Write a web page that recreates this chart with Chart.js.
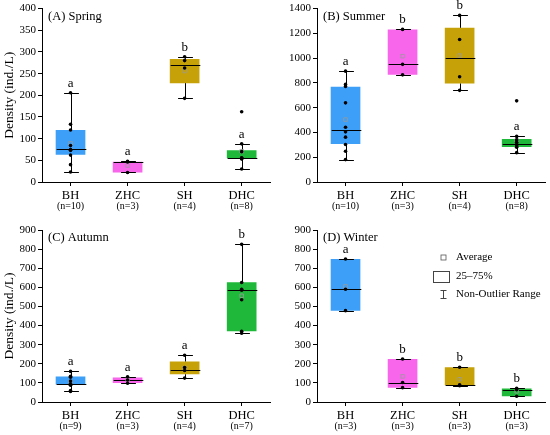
<!DOCTYPE html>
<html>
<head>
<meta charset="utf-8">
<script src="https://cdn.jsdelivr.net/npm/chart.js@4.4.1/dist/chart.umd.min.js"></script>
<style>
body{margin:0;background:#fff;}
.panel{position:absolute;width:275px;}
</style>
</head>
<body>
<div class="panel" style="left:0;top:0;height:215px"><canvas id="chartA"></canvas></div>
<div class="panel" style="left:275px;top:0;height:215px"><canvas id="chartB"></canvas></div>
<div class="panel" style="left:0;top:215px;height:220px"><canvas id="chartC"></canvas></div>
<div class="panel" style="left:275px;top:215px;height:220px"><canvas id="chartD"></canvas></div>
<script>
//////////////////////////////// DONNEES

const categories = ['BH', 'ZHC', 'SH', 'DHC'];

// (A) Spring
const springN = ['(n=10)', '(n=3)', '(n=4)', '(n=8)'];
const springQ1 = [63, 22, 228, 55];
const springQ3 = [120, 47, 284, 73];
const springMedian = [75, 46, 271, 56];
const springLow = [23, 22, 193, 30];
const springHigh = [206, 48, 289, 88];
const springMean = [89, 38, 256, 71];
const springPoints = [
    [206, 133, 120, 84, 75, 74, 73, 62, 40, 23],
    [48, 46, 22],
    [289, 280, 263, 193],
    [162, 88, 70, 56, 55, 54, 53, 30]
];
const springLetters = ['a', 'a', 'b', 'a'];
const springTicks = [0, 50, 100, 150, 200, 250, 300, 350, 400];

// (B) Summer
const summerN = ['(n=10)', '(n=3)', '(n=4)', '(n=8)'];
const summerQ1 = [306, 865, 795, 283];
const summerQ3 = [770, 1232, 1245, 348];
const summerMedian = [423, 950, 998, 310];
const summerLow = [181, 865, 740, 237];
const summerHigh = [895, 1232, 1345, 368];
const summerMean = [504, 1016, 1021, 335];
const summerPoints = [
    [895, 788, 772, 639, 442, 405, 362, 303, 248, 181],
    [1232, 950, 865],
    [1345, 1150, 850, 740],
    [655, 368, 340, 320, 305, 290, 280, 237]
];
const summerLetters = ['a', 'b', 'b', 'a'];
const summerTicks = [0, 200, 400, 600, 800, 1000, 1200, 1400];

// (C) Autumn
const autumnN = ['(n=9)', '(n=3)', '(n=4)', '(n=7)'];
const autumnQ1 = [91, 100, 145, 370];
const autumnQ3 = [134, 128, 212, 627];
const autumnMedian = [92, 115, 170, 585];
const autumnLow = [55, 98, 125, 360];
const autumnHigh = [160, 132, 245, 825];
const autumnMean = [105, 117, 178, 556];
const autumnPoints = [
    [160, 135, 130, 110, 95, 90, 88, 60, 55],
    [132, 115, 98],
    [245, 180, 165, 125],
    [825, 625, 590, 585, 535, 370, 360]
];
const autumnLetters = ['a', 'a', 'a', 'b'];
const autumnTicks = [0, 100, 200, 300, 400, 500, 600, 700, 800, 900];

// (D) Winter
const winterN = ['(n=3)', '(n=3)', '(n=3)', '(n=3)'];
const winterQ1 = [478, 75, 88, 30];
const winterQ3 = [748, 225, 182, 70];
const winterMedian = [590, 102, 90, 65];
const winterLow = [478, 75, 85, 30];
const winterHigh = [748, 225, 182, 72];
const winterMean = [605, 134, 119, 56];
const winterPoints = [
    [748, 590, 478],
    [225, 102, 75],
    [182, 90, 85],
    [72, 65, 30]
];
const winterLetters = ['a', 'b', 'b', 'b'];
const winterTicks = [0, 100, 200, 300, 400, 500, 600, 700, 800, 900];

const legendLabels = ['Average', '25\u201375%', 'Non-Outlier Range'];

//////////////////////////////// STYLE

const boxColors = ['#3d9ff7', '#f866ec', '#c6a108', '#1fb83b'];
const serif = "'Liberation Serif', 'Times New Roman', serif";

//////////////////////////////// PLUGIN MOUSTACHES / MEDIANE / LETTRES

const boxExtras = {
    id: 'boxExtras',
    afterDatasetDraw(chart, args, opts) {
        if (args.meta.type !== 'bar') return;
        const ctx = chart.ctx;
        const y = chart.scales.y;
        ctx.save();
        ctx.strokeStyle = '#000';
        ctx.lineWidth = 1;
        args.meta.data.forEach((bar, i) => {
            const x = Math.round(bar.x) + 0.5;
            const hw = bar.width / 2;
            const cw = bar.width / 4;
            const yLow = Math.round(y.getPixelForValue(opts.low[i])) + 0.5;
            const yHigh = Math.round(y.getPixelForValue(opts.high[i])) + 0.5;
            const yQ1 = y.getPixelForValue(opts.q1[i]);
            const yQ3 = y.getPixelForValue(opts.q3[i]);
            const yMed = Math.round(y.getPixelForValue(opts.median[i])) + 0.5;
            ctx.beginPath();
            ctx.moveTo(x, yHigh); ctx.lineTo(x, yQ3);
            ctx.moveTo(x, yQ1); ctx.lineTo(x, yLow);
            ctx.moveTo(x - cw, yHigh); ctx.lineTo(x + cw, yHigh);
            ctx.moveTo(x - cw, yLow); ctx.lineTo(x + cw, yLow);
            ctx.moveTo(x - hw, yMed); ctx.lineTo(x + hw, yMed);
            ctx.stroke();
        });
        ctx.restore();
    },
    afterDraw(chart, args, opts) {
        const ctx = chart.ctx;
        const y = chart.scales.y;
        const area = chart.chartArea;
        const meta = chart.getDatasetMeta(2);
        ctx.save();
        ctx.fillStyle = '#000';
        // lettres
        ctx.font = '13px ' + serif;
        ctx.textAlign = 'center';
        ctx.textBaseline = 'bottom';
        meta.data.forEach((bar, i) => {
            ctx.fillText(opts.letters[i], bar.x, y.getPixelForValue(opts.high[i]) - 3);
        });
        // titre du panneau
        ctx.font = '12.5px ' + serif;
        ctx.textAlign = 'left';
        ctx.textBaseline = 'middle';
        ctx.fillText(opts.title, area.left + 6, area.top + 8);
        // légende (panneau D)
        if (opts.legend) {
            const lx = area.left + 126;
            const ly = area.top + 27;
            ctx.strokeStyle = '#555';
            ctx.lineWidth = 0.8;
            ctx.strokeRect(lx - 2, ly - 2, 5, 5);
            ctx.strokeStyle = '#444';
            ctx.lineWidth = 1;
            ctx.strokeRect(lx - 9.5, ly + 14.5, 16, 11);
            ctx.beginPath();
            ctx.moveTo(lx + 0.5, ly + 33); ctx.lineTo(lx + 0.5, ly + 42);
            ctx.moveTo(lx - 2.5, ly + 33.5); ctx.lineTo(lx + 3.5, ly + 33.5);
            ctx.moveTo(lx - 2.5, ly + 41.5); ctx.lineTo(lx + 3.5, ly + 41.5);
            ctx.stroke();
            ctx.font = '11px ' + serif;
            ctx.fillText(opts.legend[0], lx + 13, ly);
            ctx.fillText(opts.legend[1], lx + 13, ly + 19);
            ctx.fillText(opts.legend[2], lx + 13, ly + 37);
        }
        ctx.restore();
    }
};

//////////////////////////////// CONSTRUCTION D'UN PANNEAU

function makePanel(id, p) {
    const pointData = categories.flatMap((c, i) => p.points[i].map(v => ({x: c, y: v})));
    const meanData = categories.map((c, i) => ({x: c, y: p.mean[i]}));
    return new Chart(document.getElementById(id), {
        type: 'bar',
        data: {
            labels: categories,
            datasets: [
                {
                    type: 'line',
                    data: pointData,
                    showLine: false,
                    pointRadius: 1.8,
                    pointBackgroundColor: '#000',
                    pointBorderWidth: 0,
                    order: 1
                },
                {
                    type: 'line',
                    data: meanData,
                    showLine: false,
                    pointStyle: 'rect',
                    pointRadius: 2.5,
                    pointBackgroundColor: 'rgba(0,0,0,0)',
                    pointBorderColor: '#9a9a9a',
                    pointBorderWidth: 0.8,
                    order: 2
                },
                {
                    data: categories.map((c, i) => [p.q1[i], p.q3[i]]),
                    backgroundColor: boxColors,
                    borderWidth: 0,
                    barPercentage: 0.52,
                    categoryPercentage: 1,
                    order: 3
                }
            ]
        },
        options: {
            responsive: true,
            maintainAspectRatio: false,
            animation: false,
            layout: {padding: {top: p.padTop, right: 1, left: 0, bottom: 0}},
            plugins: {
                legend: {display: false},
                tooltip: {enabled: false},
                boxExtras: {
                    q1: p.q1, q3: p.q3, median: p.median, low: p.low, high: p.high,
                    letters: p.letters, title: p.title, legend: p.legend
                }
            },
            scales: {
                x: {
                    offset: true,
                    grid: {display: true, drawOnChartArea: false, offset: false, tickLength: 4, color: '#000'},
                    border: {color: '#000', width: 1},
                    ticks: {color: '#000', font: {family: serif, size: 12.5}, padding: 2},
                    afterFit: a => { a.height = 18; }
                },
                x2: {
                    type: 'category',
                    labels: p.n,
                    position: 'bottom',
                    offset: true,
                    grid: {display: false, drawTicks: false},
                    border: {display: false},
                    ticks: {color: '#000', font: {family: serif, size: 10}, padding: 0},
                    afterFit: a => { a.height = 15; }
                },
                y: {
                    min: 0,
                    max: p.ticks[p.ticks.length - 1],
                    afterBuildTicks: a => { a.ticks = p.ticks.map(v => ({value: v})); },
                    grid: {display: true, drawOnChartArea: false, tickLength: 4, color: '#000'},
                    border: {color: '#000', width: 1},
                    ticks: {color: '#000', font: {family: serif, size: 11}, padding: 2, callback: v => String(v)},
                    title: {
                        display: p.yTitle,
                        text: 'Density (ind./L)',
                        color: '#000',
                        font: {family: serif, size: 13.5},
                        padding: {top: 1, bottom: 2}
                    },
                    afterFit: a => { a.width = 42; }
                }
            }
        },
        plugins: [boxExtras]
    });
}

makePanel('chartA', {
    title: '(A) Spring', n: springN, q1: springQ1, q3: springQ3, median: springMedian,
    low: springLow, high: springHigh, mean: springMean, points: springPoints,
    letters: springLetters, ticks: springTicks, yTitle: true, padTop: 8
});
makePanel('chartB', {
    title: '(B) Summer', n: summerN, q1: summerQ1, q3: summerQ3, median: summerMedian,
    low: summerLow, high: summerHigh, mean: summerMean, points: summerPoints,
    letters: summerLetters, ticks: summerTicks, yTitle: false, padTop: 8
});
makePanel('chartC', {
    title: '(C) Autumn', n: autumnN, q1: autumnQ1, q3: autumnQ3, median: autumnMedian,
    low: autumnLow, high: autumnHigh, mean: autumnMean, points: autumnPoints,
    letters: autumnLetters, ticks: autumnTicks, yTitle: true, padTop: 15
});
makePanel('chartD', {
    title: '(D) Winter', n: winterN, q1: winterQ1, q3: winterQ3, median: winterMedian,
    low: winterLow, high: winterHigh, mean: winterMean, points: winterPoints,
    letters: winterLetters, ticks: winterTicks, yTitle: false, padTop: 15,
    legend: legendLabels
});
</script>
</body>
</html>
